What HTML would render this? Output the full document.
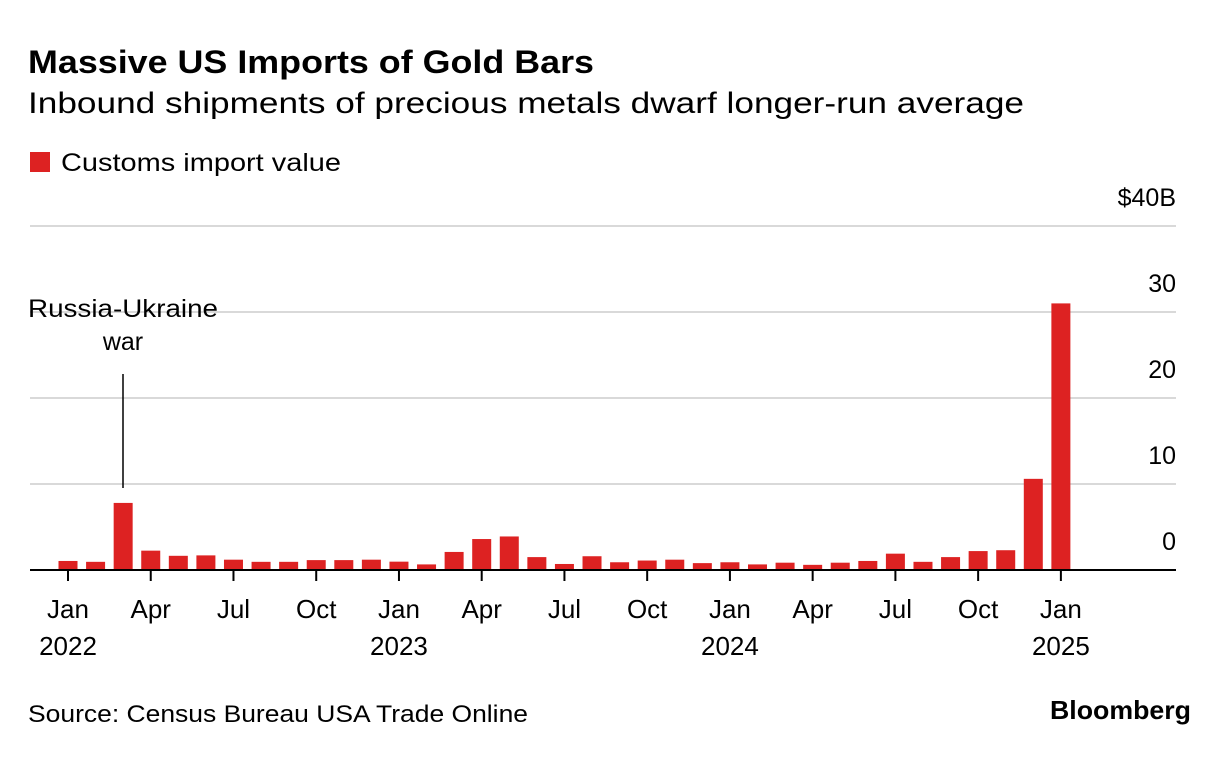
<!DOCTYPE html>
<html><head><meta charset="utf-8"><style>
body{margin:0;background:#fff;width:1230px;height:754px;overflow:hidden;font-family:"Liberation Sans",Arial,sans-serif;color:#000}
svg text{font-family:"Liberation Sans",Arial,sans-serif}
</style></head><body>
<svg id="c" width="1230" height="754">
<text x="28" y="73" font-size="32" font-weight="bold" textLength="566" lengthAdjust="spacingAndGlyphs">Massive US Imports of Gold Bars</text>
<text x="28" y="113" font-size="30" textLength="996" lengthAdjust="spacingAndGlyphs">Inbound shipments of precious metals dwarf longer-run average</text>
<rect x="30" y="152" width="20" height="20" fill="#dd2222"/>
<text x="61" y="171" font-size="25" textLength="280" lengthAdjust="spacingAndGlyphs">Customs import value</text>
<g id="grid"></g><g id="bars"></g><g id="xaxis"></g>
<line x1="123" y1="374" x2="123" y2="488" stroke="#000" stroke-width="1.5"/>
<text x="123" y="317" font-size="25" text-anchor="middle" textLength="190" lengthAdjust="spacingAndGlyphs">Russia-Ukraine</text>
<text x="123" y="350" font-size="25" text-anchor="middle">war</text>
<text x="28" y="722" font-size="24" textLength="500" lengthAdjust="spacingAndGlyphs">Source: Census Bureau USA Trade Online</text>
<text x="1191" y="719" font-size="26" font-weight="bold" text-anchor="end" textLength="141" lengthAdjust="spacingAndGlyphs">Bloomberg</text>
</svg>
<script>
const values=[1.05,0.95,7.8,2.25,1.65,1.7,1.2,0.95,0.95,1.15,1.15,1.2,0.97,0.65,2.1,3.6,3.9,1.5,0.7,1.6,0.9,1.1,1.2,0.8,0.9,0.65,0.85,0.6,0.85,1.05,1.9,0.95,1.5,2.2,2.3,10.6,31];
const yTicks=[0,10,20,30,40];
const yTickLabels=["0","10","20","30","$40B"];
const xTickMonths=[0,3,6,9,12,15,18,21,24,27,30,33,36];
const xTickLabels=["Jan","Apr","Jul","Oct","Jan","Apr","Jul","Oct","Jan","Apr","Jul","Oct","Jan"];
const yearLabels=["2022","2023","2024","2025"];
const NS="http://www.w3.org/2000/svg";
const y=v=>570-v*8.6;
const x=i=>68+i*27.58;
const g=document.getElementById('grid'),b=document.getElementById('bars'),xa=document.getElementById('xaxis');
function mk(tag,attrs,parent,txt){const e=document.createElementNS(NS,tag);for(const k in attrs)e.setAttribute(k,attrs[k]);if(txt!==undefined)e.textContent=txt;parent.appendChild(e);return e;}
yTicks.forEach((t,i)=>{
 if(t>0){const l=mk('line',{x1:30,x2:1176,y1:y(t),y2:y(t),stroke:'#d9d9d9','stroke-width':2},g);
 
 }
 const tx=mk('text',{x:1176,y:y(t)-20,'font-size':25,'text-anchor':'end'},g,yTickLabels[i]);
 
 
});
values.forEach((v,i)=>{
 const r=mk('rect',{x:x(i)-9.5,y:y(v),width:19,height:570-y(v),fill:'#dd2222'},b);
 
 
});
const base=mk('line',{x1:30,x2:1176,y1:570,y2:570,stroke:'#000','stroke-width':2},xa);


xTickMonths.forEach((m,i)=>{
 const t=mk('line',{x1:x(m),x2:x(m),y1:570,y2:581,stroke:'#000','stroke-width':2},xa);
 
 
 const l=mk('text',{x:x(m),y:618,'font-size':26,'text-anchor':'middle'},xa,xTickLabels[i]);
 
 
 if(m%12===0){const yl=mk('text',{x:x(m),y:655,'font-size':26,'text-anchor':'middle'},xa,yearLabels[m/12]);
 
 }
});
</script>
</body></html>
